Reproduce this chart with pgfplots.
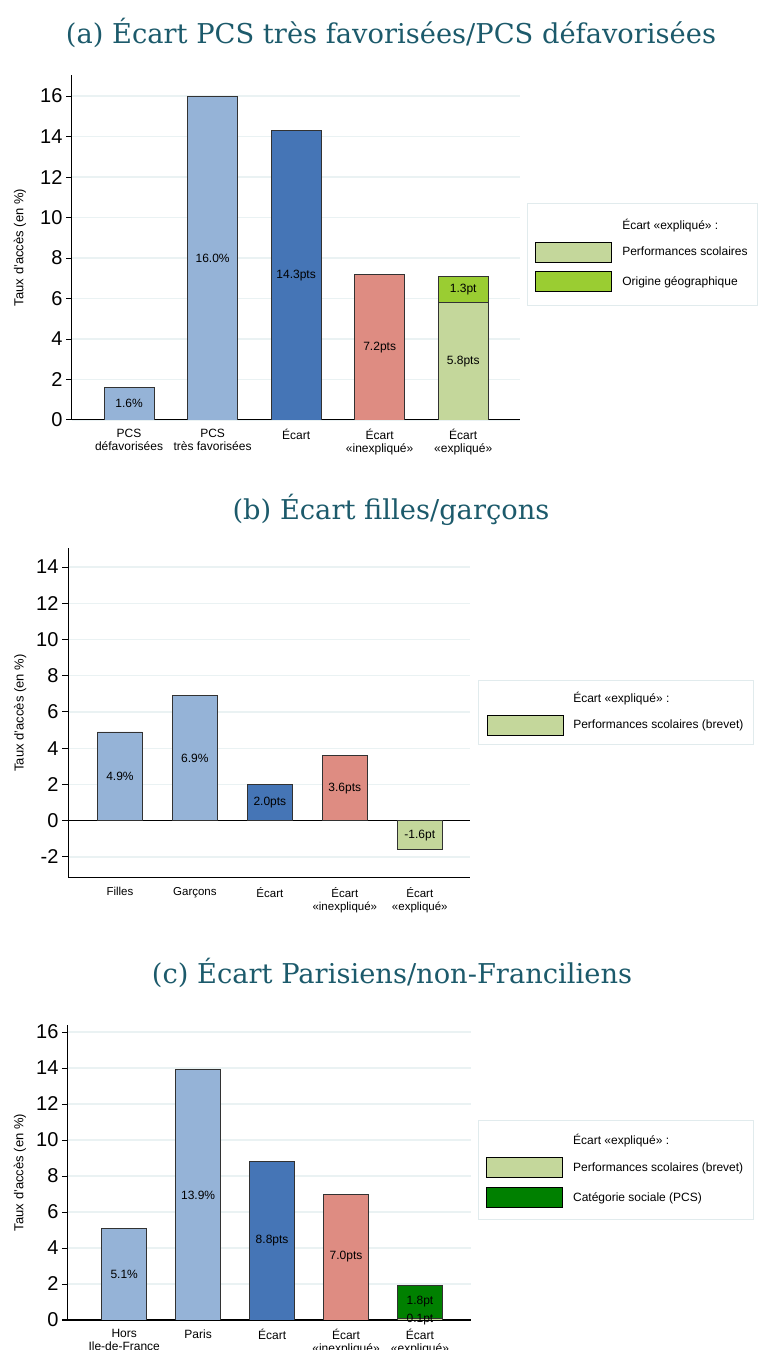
\documentclass[border=0pt]{standalone}
\usepackage{pgfplots}
\pgfplotsset{compat=1.18}
\usepackage{fontspec}
\setmainfont{Liberation Sans}
\newfontfamily\titlefont{DejaVu Serif}

\definecolor{lblue}{RGB}{149,179,215}
\definecolor{dblue}{RGB}{69,117,182}
\definecolor{salmon}{RGB}{222,140,130}
\definecolor{lgreen}{RGB}{196,215,155}
\definecolor{bgreen}{RGB}{154,205,50}
\definecolor{dgreen}{RGB}{0,128,0}
\definecolor{gridc}{RGB}{234,242,243}
\definecolor{legb}{RGB}{225,235,237}
\definecolor{edge}{RGB}{50,50,50}
\definecolor{titlec}{RGB}{28,90,107}

\pgfplotsset{
  panel/.style={
    scale only axis,
    axis x line*=bottom, axis y line*=left,
    axis line style={line width=1pt, black},
    xtick={1,2,3,4,5},
    xticklabel style={align=center, font=\fontsize{12}{13}\selectfont},
    x tick style={draw=none},
    major x tick style={draw=none},
    y tick style={black, line width=1pt},
    tick align=outside, major tick length=6pt,
    yticklabel style={font=\fontsize{20}{22}\selectfont},
    /pgf/number format/assume math mode=true,
    ymajorgrids, major grid style={color=gridc, line width=1.2pt},
    ylabel={Taux d'accès (en \%)},
    ylabel style={font=\fontsize{13}{15}\selectfont, anchor=center},
    legend style={draw=legb, line width=1pt, fill=white, anchor=west,
      font=\fontsize{12}{14}\selectfont, row sep=9pt,
      inner xsep=8pt, inner ysep=12pt,
      /tikz/every odd column/.append style={column sep=8pt}},
    legend cell align=left,
  },
  bar/.style 2 args={ybar, bar width=#2, bar shift=0pt, draw=edge,
    line width=0.8pt, fill=#1, forget plot},
  lab/.style={draw=none, mark=none, forget plot, nodes near coords,
    point meta=explicit symbolic,
    every node near coord/.append style={anchor=center,
      font=\fontsize{12}{14}\selectfont, inner sep=0pt}},
  patch/.style={legend image code/.code={
    \draw[fill=#1, draw=black, line width=0.8pt] (0pt,-10pt) rectangle (76pt,10pt);}},
}

\begin{document}
\begin{tikzpicture}
\useasboundingbox (0pt,0pt) rectangle (760pt,1350pt);

% ---------- (a)
\node[font=\titlefont\fontsize{27.3}{30}\selectfont, text=titlec] at (391pt,1317pt) {(a) Écart PCS très favorisées/PCS défavorisées};
\begin{axis}[panel, at={(72pt,930pt)}, anchor=south west,
  width=448pt, height=345pt,
  xmin=0.317, xmax=5.68, ymin=0, ymax=17.04,
  ytick={0,2,...,16},
  xticklabels={PCS\\défavorisées, PCS\\très favorisées, Écart, Écart\\«inexpliqué», Écart\\«expliqué»},
  ylabel style={at={(axis description cs:-0.116,0.5)}},
  legend style={at={(axis description cs:1.0156,0.48)}, inner ysep=13pt},
]
\addlegendimage{empty legend}
\addlegendentry{Écart «expliqué» :}
\addlegendimage{patch=lgreen}
\addlegendentry{Performances scolaires}
\addlegendimage{patch=bgreen}
\addlegendentry{Origine géographique}
\addplot[bar={lblue}{50pt}] coordinates {(1,1.6) (2,16.0)};
\addplot[bar={dblue}{50pt}] coordinates {(3,14.3)};
\addplot[bar={salmon}{50pt}] coordinates {(4,7.2)};
\addplot[bar={bgreen}{50pt}] coordinates {(5,7.1)};
\addplot[bar={lgreen}{50pt}] coordinates {(5,5.8)};
\addplot[lab] table[meta=lab] {
x y lab
1 0.8 1.6\%
2 8.0 16.0\%
3 7.15 14.3pts
4 3.6 7.2pts
5 2.9 5.8pts
5 6.45 1.3pt
};
\end{axis}

% ---------- (b)
\node[font=\titlefont\fontsize{27.3}{30}\selectfont, text=titlec] at (391pt,840pt) {(b) Écart filles/garçons};
\begin{axis}[panel, at={(68pt,472pt)}, anchor=south west,
  width=402pt, height=330pt,
  xmin=0.307, xmax=5.67, ymin=-3.16, ymax=15.05,
  ytick={-2,0,...,14},
  extra y ticks={0}, extra y tick labels={},
  extra y tick style={major tick length=0pt, major grid style={black, line width=1pt}},
  xticklabels={Filles, Garçons, Écart, Écart\\«inexpliqué», Écart\\«expliqué»},
  xticklabel style={font=\fontsize{11.5}{12.5}\selectfont},
  ylabel style={at={(axis description cs:-0.119,0.5)}},
  legend style={at={(axis description cs:1.0199,0.5015)}, inner ysep=9pt},
]
\addlegendimage{empty legend}
\addlegendentry{Écart «expliqué» :}
\addlegendimage{patch=lgreen}
\addlegendentry{Performances scolaires (brevet)}
\addplot[bar={lblue}{45pt}] coordinates {(1,4.9) (2,6.9)};
\addplot[bar={dblue}{45pt}] coordinates {(3,2.0)};
\addplot[bar={salmon}{45pt}] coordinates {(4,3.6)};
\addplot[bar={lgreen}{45pt}] coordinates {(5,-1.6)};
\addplot[lab] table[meta=lab] {
x y lab
1 2.45 4.9\%
2 3.45 6.9\%
3 1.0 2.0pts
4 1.8 3.6pts
5 -0.8 -1.6pt
};
\end{axis}

% ---------- (c)
\node[font=\titlefont\fontsize{27.3}{30}\selectfont, text=titlec] at (392pt,377pt) {(c) Écart Parisiens/non-Franciliens};
\begin{axis}[panel, at={(68pt,30pt)}, anchor=south west,
  width=403pt, height=295pt,
  xmin=0.24, xmax=5.69, ymin=0, ymax=16.39,
  ytick={0,2,...,16},
  xticklabels={Hors\\Ile-de-France, Paris, Écart, Écart\\«inexpliqué», Écart\\«expliqué»},
  ylabel style={at={(axis description cs:-0.119,0.5)}},
  legend style={at={(axis description cs:1.017,0.508)}, inner ysep=12pt},
]
\addlegendimage{empty legend}
\addlegendentry{Écart «expliqué» :}
\addlegendimage{patch=lgreen}
\addlegendentry{Performances scolaires (brevet)}
\addlegendimage{patch=dgreen}
\addlegendentry{Catégorie sociale (PCS)}
\addplot[bar={lblue}{45pt}] coordinates {(1,5.1) (2,13.9)};
\addplot[bar={dblue}{45pt}] coordinates {(3,8.8)};
\addplot[bar={salmon}{45pt}] coordinates {(4,7.0)};
\addplot[bar={dgreen}{45pt}] coordinates {(5,1.9)};
\addplot[bar={lgreen}{45pt}] coordinates {(5,0.1)};
\addplot[lab] table[meta=lab] {
x y lab
1 2.55 5.1\%
2 6.95 13.9\%
3 4.4 8.8pts
4 3.5 7.0pts
5 1.0 1.8pt
5 0.05 0.1pt
};
\end{axis}
\end{tikzpicture}
\end{document}
